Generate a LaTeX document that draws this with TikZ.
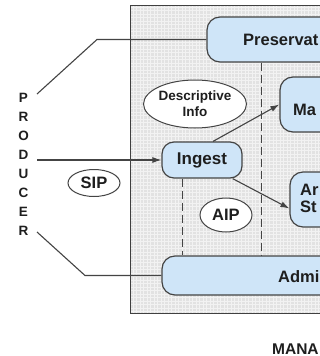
\documentclass[tikz,border=0pt]{standalone}
\usepackage{fontspec}
\setmainfont{Liberation Sans}
\usetikzlibrary{arrows.meta,shapes.geometric}
\definecolor{boxblue}{HTML}{CFE5F8}
\definecolor{bggray}{HTML}{E2E2E2}
\definecolor{gridgray}{HTML}{F2F2F2}
\definecolor{edge}{HTML}{444444}
\definecolor{ink}{HTML}{1E1E1E}
\begin{document}
\begin{tikzpicture}[x=1pt,y=-1pt,
  func/.style={draw=edge, line width=1.2pt, fill=boxblue, rounded corners=13pt, inner sep=0pt},
  lbl/.style={font=\bfseries\fontsize{16.5}{18}\selectfont, text=ink, inner sep=0pt, anchor=west},
  pkg/.style={ellipse, draw=edge, line width=1pt, fill=white, inner sep=0pt, font=\bfseries\fontsize{16.5}{18}\selectfont, text=ink},
  flow/.style={draw=edge, line width=1.1pt},
  arr/.style={flow, -{Latex[length=9pt,width=6pt]}},
  dsh/.style={draw=edge, dash pattern=on 8pt off 4pt}
]
\useasboundingbox (0,0) rectangle (320,356);
\clip (0,0) rectangle (320,356);
\fill[white] (0,0) rectangle (320,356);
% system box with textured fill
\fill[bggray] (130,5) rectangle (340,313);
\begin{scope}
\clip (130,5) rectangle (340,313);
\draw[gridgray, line width=0.7pt, step=3.5pt] (130,5) grid (340,313);
\end{scope}
\draw[draw=black!75, line width=1pt] (130,5) rectangle (340,313);
% functional boxes
\node[func, minimum width=133pt, minimum height=45pt] (pres) at (273.5,39.5) {};
\node[func, minimum width=60pt, minimum height=55pt] (mgmt) at (310,104.5) {};
\node[func, minimum width=50pt, minimum height=55pt] (arch) at (315,199.5) {};
\node[func, minimum width=198pt, minimum height=39pt] (admin) at (261,275.5) {};
\node[func, minimum width=80pt, minimum height=36pt, rounded corners=12pt, font=\bfseries\fontsize{17}{18}\selectfont, text=ink] (ingest) at (202,160) {Ingest};
% labels
\node[lbl] (presl) at (243,40) {Preservat};
\node[lbl] (mgmtl) at (293,110) {Ma};
\node[lbl] (archl) at (300,190) {Ar};
\node[lbl] (stor) at (300,207) {St};
\node[lbl] (adminl) at (278,277) {Admi};
% packages
\node[pkg, minimum width=96pt, minimum height=48pt, font=\bfseries\fontsize{13.5}{16}\selectfont, align=center] (desc) at (195,104) {Descriptive\\Info};
\node[pkg, minimum width=52pt, minimum height=34pt] (aip) at (226,215) {AIP};
\node[pkg, minimum width=52pt, minimum height=27pt] (sip) at (94,183) {SIP};
% dashed links
\draw[dsh, line width=1.8pt] ([xshift=21pt]ingest.south west) -- ([xshift=21pt]ingest.south west |- admin.north);
\draw[dsh, line width=1pt] ([xshift=55pt]pres.south west) -- ([xshift=55pt]pres.south west |- admin.north);
% flows
\coordinate (p1) at (37,160);
\draw[arr] (p1) -- (ingest.west);
\draw[arr] ([xshift=11pt]ingest.north) -- (mgmt.west);
\draw[arr] ([xshift=-10pt]ingest.south east) -- ([yshift=-9pt]arch.west);
\coordinate (a0) at (37,94);
\coordinate (a1) at (97,39.5);
\draw[flow] (a0) -- (a1) -- (pres.west);
\coordinate (b0) at (37,232);
\coordinate (b1) at (85,275.5);
\draw[flow] (b0) -- (b1) -- (admin.west);
% producer
\node[font=\bfseries\fontsize{13.5}{19}\selectfont, align=center, text=ink, inner sep=0pt] (prod) at (23.5,164.5) {P\\R\\O\\D\\U\\C\\E\\R};
% management label
\node[lbl, font=\bfseries\fontsize{15.5}{20}\selectfont, anchor=base west] (mgt) at (272,354) {MANA};
\end{tikzpicture}
\end{document}
